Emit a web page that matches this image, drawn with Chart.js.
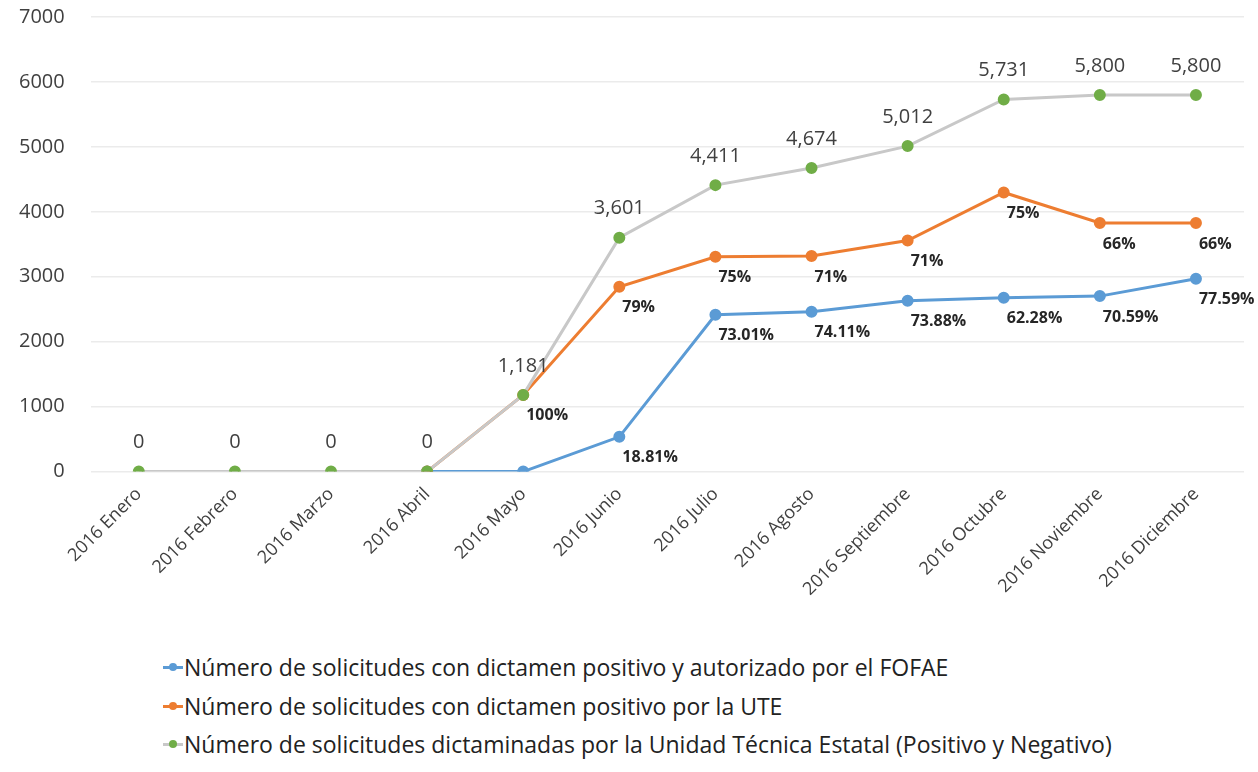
<!DOCTYPE html>
<html>
<head>
<meta charset="utf-8">
<script src="https://cdn.jsdelivr.net/npm/chart.js@4/dist/chart.umd.min.js"></script>
<style>
  html, body { margin: 0; padding: 0; background: #fff; }
  body { width: 1258px; height: 772px; overflow: hidden; font-family: "Open Sans", sans-serif; }
  .wrap { position: relative; width: 1258px; height: 604px; }
  .legend { margin-left: 163px; margin-top: 44px; }
  .legend-row { display: flex; align-items: center; height: 38.5px; font-size: 23px; color: #222; white-space: nowrap; }
  .legend-key { position: relative; width: 20px; height: 10px; margin-right: 1px; }
  .legend-key i { position: absolute; left: 0; right: 0; top: 4px; height: 3px; }
  .legend-key b { position: absolute; left: 6px; top: 1px; width: 8px; height: 8px; border-radius: 50%; }
</style>
</head>
<body>
<div class="wrap"><canvas id="chart"></canvas></div>
<div class="legend" id="legend"></div>
<script>
/* Solicitudes dictaminadas 2016 */
const months = ["2016 Enero","2016 Febrero","2016 Marzo","2016 Abril","2016 Mayo","2016 Junio",
  "2016 Julio","2016 Agosto","2016 Septiembre","2016 Octubre","2016 Noviembre","2016 Diciembre"];

const fofaeValues = [null, null, null, 0, 0, 535, 2415, 2460, 2629, 2677, 2702, 2970];
const fofaeLabels = [null, null, null, null, null, "18.81%", "73.01%", "74.11%", "73.88%", "62.28%", "70.59%", "77.59%"];

const uteValues = [null, null, null, 0, 1181, 2845, 3308, 3319, 3558, 4298, 3828, 3828];
const uteLabels = [null, null, null, null, "100%", "79%", "75%", "71%", "71%", "75%", "66%", "66%"];

const totalValues = [0, 0, 0, 0, 1181, 3601, 4411, 4674, 5012, 5731, 5800, 5800];

const yTicks = [0, 1000, 2000, 3000, 4000, 5000, 6000, 7000];

const seriesNames = [
  "Número de solicitudes con dictamen positivo y autorizado por el FOFAE",
  "Número de solicitudes con dictamen positivo por la UTE",
  "Número de solicitudes dictaminadas por la Unidad Técnica Estatal (Positivo y Negativo)"
];

const BLUE = "#5B9BD5", ORANGE = "#ED7D31", GREY = "#C8C8C8", GREEN = "#70AD47";

// point labels: numbers above the grey line, percentages under the others
const pointLabels = {
  id: "pointLabels",
  afterDatasetsDraw(chart) {
    const ctx = chart.ctx;
    ctx.save();
    chart.data.datasets.forEach((ds, i) => {
      const meta = chart.getDatasetMeta(i);
      meta.data.forEach((pt, j) => {
        if (ds.data[j] == null) return;
        if (ds.kind === "total") {
          ctx.font = "20px 'Open Sans'";
          ctx.fillStyle = "#404040";
          ctx.textAlign = "center";
          ctx.textBaseline = "middle";
          ctx.fillText(ds.data[j].toLocaleString("en-US"), pt.x, pt.y - 29);
        } else {
          const txt = ds.pctLabels[j];
          if (!txt) return;
          ctx.font = "bold 16px 'Open Sans'";
          ctx.fillStyle = "#262626";
          ctx.textAlign = "left";
          ctx.textBaseline = "middle";
          ctx.fillText(txt, pt.x + 3, pt.y + 21);
        }
      });
    });
    ctx.restore();
  }
};

const line = (label, data, color, marker, extra) => Object.assign({
  label, data, borderColor: color, backgroundColor: marker,
  pointBackgroundColor: marker, pointBorderColor: marker,
  pointRadius: 4.5, pointHoverRadius: 4.5, borderWidth: 3, tension: 0, spanGaps: false
}, extra);

// grey first so it is painted on top
const datasets = [
  line(seriesNames[2], totalValues, GREY, GREEN, { kind: "total" }),
  line(seriesNames[1], uteValues, ORANGE, ORANGE, { pctLabels: uteLabels }),
  line(seriesNames[0], fofaeValues, BLUE, BLUE, { pctLabels: fofaeLabels })
];

const chart = new Chart(document.getElementById("chart"), {
  type: "line",
  data: { labels: months, datasets },
  plugins: [pointLabels],
  options: {
    responsive: true, maintainAspectRatio: false, animation: false,
    layout: { padding: { top: 17, left: 19, right: 14, bottom: 0 } },
    plugins: { legend: { display: false }, tooltip: { enabled: false } },
    scales: {
      x: {
        offset: true,
        grid: { display: false },
        border: { display: false },
        ticks: { color: "#404040", font: { family: "'Open Sans'", size: 18 }, minRotation: 45, maxRotation: 45, padding: 4 }
      },
      y: {
        min: 0, max: 7000,
        afterBuildTicks: ax => { ax.ticks = yTicks.map(v => ({ value: v })); },
        grid: { color: "#EBEBEB", lineWidth: 1.5, drawTicks: true, tickLength: 26, tickColor: "rgba(0,0,0,0)" },
        border: { display: false },
        ticks: { color: "#404040", font: { family: "'Open Sans'", size: 20 }, padding: 0, callback: v => String(v) }
      }
    }
  }
});

// legend in Excel order: blue, orange, grey
const legendEl = document.getElementById("legend");
legendEl.innerHTML = [[BLUE, BLUE], [ORANGE, ORANGE], [GREY, GREEN]].map((c, i) => `
  <div class="legend-row">
    <span class="legend-key"><i style="background:${c[0]}"></i><b style="background:${c[1]}"></b></span>
    <span>${seriesNames[i]}</span>
  </div>`).join("");
</script>
</body>
</html>
